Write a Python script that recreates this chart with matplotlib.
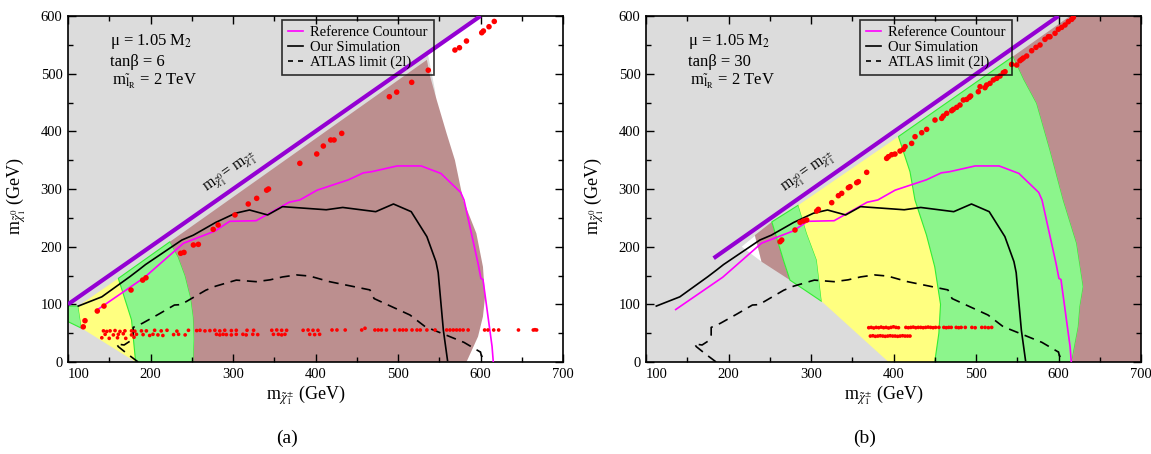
import matplotlib
matplotlib.use('Agg')
import matplotlib.pyplot as plt
from matplotlib.lines import Line2D
from matplotlib.ticker import MultipleLocator

plt.rcParams['font.family'] = ['Liberation Serif', 'DejaVu Serif']
plt.rcParams['mathtext.fontset'] = 'stix'

# ---------------- data (GeV) ----------------
# Reference contour (same in both panels)
ref_x = [136, 193, 240, 278, 296, 328, 368, 381, 402, 440, 458, 468, 499, 528, 552, 576, 580, 597, 600.5, 603, 614, 615.5]
ref_y = [91, 147, 206, 227, 244, 245, 277, 281, 298, 316, 328, 330, 340, 340, 327, 294, 281, 171, 145, 143, 27, 0]

# Our simulation
sim_x = [112.5, 141, 175, 186, 194, 238, 252, 279, 303, 320, 342, 360, 413, 433, 473, 494.5, 516, 535, 546, 548.7, 555, 560]
sim_y = [97, 113, 148, 160, 169, 211.5, 220, 242, 258, 263.6, 255, 269.4, 264, 268, 260.7, 274, 260.7, 217.4, 174, 155, 55, 3]

# ATLAS limit (2l)
atlas_x = [185, 172, 161, 158.5, 163, 168, 175, 179, 179, 190, 210, 229, 237, 267, 279, 304, 328, 345, 360, 377, 393,
           417, 442, 466, 471, 500, 514.5, 533, 556, 580, 599, 600, 601, 607.5]
atlas_y = [0, 14, 26.6, 32, 30.5, 29.5, 36, 47, 60, 67, 83, 98.8, 99.5, 124.5, 131.5, 142, 139.3, 142.5, 147.5, 151, 149,
           139.3, 132, 125, 110, 91, 81.5, 61.2, 48, 34, 18, 17.5, 11, 1]

# Degenerate line m_chi0 = m_chi+-
diagL_x = [100, 600]
diagL_y = [100, 600]
diagR_x = [182, 600]
diagR_y = [180, 600]

# Left-panel regions
L_greenA_x = [100, 112.5, 116.6, 100]
L_greenA_y = [97, 97, 58.4, 70]
L_yellow_x = [112.5, 161, 177, 182, 116.6]
L_yellow_y = [97, 145, 73, 0, 58.4]
L_greenB_x = [161, 223.6, 233.7, 242, 249, 252, 253, 252, 182, 177]
L_greenB_y = [145, 208.6, 182, 150, 110, 78, 40, 0, 0, 73]
L_brown_x = [223.6, 233.7, 242, 249, 252, 253, 252, 583, 597, 603, 605.5, 603, 595, 579, 569, 559, 547, 539, 535]
L_brown_y = [208.6, 182, 150, 110, 78, 40, 0, 0, 44, 79, 113, 165, 223, 281, 350, 396, 454, 495, 524]
L_white_x = [536, 600, 700, 700, 570, 545]
L_white_y = [536, 600, 600, 0, 0, 470]

# Right-panel regions
R_white_x = [216, 232, 240]
R_white_y = [200, 218.5, 174]
R_brownA_x = [232, 252.5, 266.5, 274.5, 240]
R_brownA_y = [220, 243, 177, 142, 174]
R_greenA_x = [252.5, 284.7, 295, 307, 313, 274.5, 266.5]
R_greenA_y = [243, 272, 223, 177, 105, 142, 177]
R_yellow_x = [284.7, 406, 420, 426, 440, 450, 457, 455, 450, 394, 313, 307, 295]
R_yellow_y = [272, 391, 330, 281, 220, 165, 100, 50, 0, 0, 105, 177, 223]
R_greenB_x = [406, 545, 558, 573.6, 589.7, 605.8, 622, 630, 626, 624, 616, 450, 455, 457, 450, 440, 426, 420]
R_greenB_y = [391, 530, 490, 448.6, 367.6, 281, 206, 130.6, 96, 61, 0, 0, 50, 100, 165, 220, 281, 330]
R_brownB_x = [545, 614, 700, 700, 616, 624, 626, 630, 622, 605.8, 589.7, 573.6, 558]
R_brownB_y = [530, 600, 600, 0, 0, 61, 96, 130.6, 206, 281, 367.6, 448.6, 490]

# Scan points (left, tan beta = 6)
dotsL_x = [118.5, 120.6, 135.5, 143.6, 176.4, 190.5, 194.5, 236.6, 240.6, 252, 258, 276, 282, 302.4, 318.5, 328.7,
           340.8, 343, 381, 401.5, 409.5, 418.4, 422.5, 431.8, 489.5, 498.4, 516.6, 536.7, 569, 574.5, 583, 601.5,
           603.5, 610.3, 616.7]
dotsL_y = [61, 71.6, 88.4, 97, 124.8, 142, 146, 188.5, 190, 202.9, 204, 230, 237.6, 255, 274, 283.8,
           298, 300, 344.5, 360.7, 374.5, 385, 385, 396.5, 460, 468, 485, 506, 541, 545, 556.6, 571,
           574, 581.4, 590.6]
bandL_x = [143, 147, 151, 157, 163, 169, 177, 181, 189, 195, 205, 213, 220, 232, 246, 256, 260, 266, 272, 278, 284,
           290, 298, 304, 317, 325, 347, 353, 359, 365, 385, 391, 397, 403,
           145, 155, 161, 167, 177, 183, 191, 199, 203, 209, 215, 228, 234, 242, 280, 284, 288, 292, 298, 304, 312,
           316, 324, 330, 349, 355, 359, 363, 393, 399, 405,
           141, 150, 160, 170, 180,
           420, 426, 436, 456, 460, 472, 476, 480, 486, 496, 502, 506, 510, 517, 523, 527, 535, 545, 559, 563, 567,
           571, 575, 579, 585, 605, 609, 616, 622, 646, 664, 666, 668]
bandL_y = [54, 53, 54, 54.5, 53, 54, 54, 53.5, 54, 54, 55, 54, 55, 53.5, 55, 54.5, 55, 54, 54.5, 55, 54,
           55, 54.5, 55, 55, 55, 55, 55.5, 55, 55, 55, 55.5, 55, 55,
           48, 47, 48, 49, 47, 48, 47.5, 46, 48, 47, 46, 47.5, 48, 47, 48, 47, 48, 47.5, 47, 48, 48,
           47, 48, 47.5, 48, 48, 47, 48, 48, 47.5, 48,
           42, 41, 42, 41, 43,
           55.5, 55.5, 55.5, 55.5, 58.5, 55.5, 55.5, 55.5, 55.5, 55.5, 55.5, 55.5, 55.5, 55.5, 55.5, 55.5, 55.5, 55.5,
           55.5, 55.5, 55.5, 55.5, 55.5, 55.5, 55.5, 55.5, 55.5, 55.5, 55.5, 55.5, 55.5, 56, 55.5]

# Scan points (right, tan beta = 30)
dotsR_x = [262.5, 264.5, 280.6, 286.7, 290.7, 294.8, 306.9, 308.9, 325.1, 333.2, 337.2, 345.3, 347.3, 355.4, 357.4,
           367.5, 391.7, 393.8, 397.8, 401.8, 407.9, 411.9, 414, 422, 426.1, 434.2, 440.2, 450.3, 458.4, 460.4,
           464.5, 470.5, 472.5, 476.6, 480.6, 484.7, 488.7, 491.9, 493.5, 502.8, 504.9, 510.9, 512.9, 517, 521,
           525.1, 529.1, 533.1, 535.2, 543.2, 549.3, 553.3, 555.4, 557.4, 561.4, 567.5, 572.7, 577.6, 583.6, 587.7,
           589.7, 595.8, 599.8, 603.8, 607.9, 611.9, 616, 618]
dotsR_y = [208.6, 211.5, 228.9, 242.2, 244.5, 246.2, 261.8, 264.7, 276.3, 288.4, 292.4, 302.3, 304, 311, 312.7,
           328.9, 353.1, 356, 359.5, 360.6, 365.8, 368.7, 373.4, 379.1, 390.7, 397.6, 403.4, 419.6, 422.5, 426.5,
           431.2, 435.8, 438.1, 441.6, 445.6, 454.3, 455.4, 458.9, 461.2, 468.7, 477.4, 475.7, 480.3, 483.2, 489,
           491.9, 495.9, 501.7, 503.4, 516.1, 515, 522.5, 524.8, 527.1, 530.6, 539.8, 545.6, 549.7, 559.5, 564.1,
           564, 570, 577, 580.3, 584.4, 590.1, 594.2, 597.6]
bandR_x = [370, 373, 376, 379, 382, 385, 388, 391, 394, 397, 400, 403, 406, 415, 418, 421, 424, 427, 430, 433, 436,
           439, 442, 445, 448, 451, 455, 461, 464, 467, 470, 476, 479, 482, 487, 495, 499, 507, 511, 515, 519,
           372, 375, 378, 381, 384, 387, 390, 393, 396, 399, 402, 405, 408, 411, 414, 417, 420]
bandR_y = [59.5, 60, 59, 60, 59.5, 60.5, 59.5, 60, 59, 60, 61, 60, 59.5, 60, 59.5, 60, 60.5, 59.5, 60, 60, 59.5,
           60, 60.5, 60, 59.5, 60, 60, 60, 59.5, 60, 60, 60, 59.5, 60, 60, 60, 59.5, 60, 60, 59.5, 60,
           45, 45.5, 44.5, 45, 45.5, 45, 44.5, 45, 45.5, 45, 45, 44.5, 45, 45.5, 45, 45, 45]

tanb_labels = ['6', '30']

# ---------------- styles ----------------
GRAY = '#dcdcdc'
BROWN = '#bc8f8f'
GREEN = '#8cf58c'
GREEN_EDGE = '#33ee33'
YELLOW = '#ffff80'
PURPLE = '#9400d3'
MAGENTA = '#ff00ff'

fig = plt.figure(figsize=(11.51, 4.54), dpi=100)
axL = fig.add_axes([68 / 1151, 92 / 454, 495 / 1151, 346 / 454])
axR = fig.add_axes([646 / 1151, 92 / 454, 495 / 1151, 346 / 454])


def fill(ax, xs, ys, color, edge=None):
    ax.fill(xs, ys, facecolor=color, edgecolor=edge if edge else 'none',
            linewidth=0.8 if edge else 0, zorder=1)


# left panel regions
fill(axL, L_white_x, L_white_y, 'white')
fill(axL, L_greenA_x, L_greenA_y, GREEN, GREEN_EDGE)
fill(axL, L_yellow_x, L_yellow_y, YELLOW)
fill(axL, L_greenB_x, L_greenB_y, GREEN, GREEN_EDGE)
fill(axL, L_brown_x, L_brown_y, BROWN)

# right panel regions
fill(axR, R_white_x, R_white_y, 'white')
fill(axR, R_brownA_x, R_brownA_y, BROWN)
fill(axR, R_greenA_x, R_greenA_y, GREEN, GREEN_EDGE)
fill(axR, R_yellow_x, R_yellow_y, YELLOW)
fill(axR, R_greenB_x, R_greenB_y, GREEN, GREEN_EDGE)
fill(axR, R_brownB_x, R_brownB_y, BROWN)

panels = [(axL, diagL_x, diagL_y, dotsL_x, dotsL_y, bandL_x, bandL_y, tanb_labels[0]),
          (axR, diagR_x, diagR_y, dotsR_x, dotsR_y, bandR_x, bandR_y, tanb_labels[1])]

for ax, dx, dy, px, py, bx, by, tb in panels:
    ax.set_facecolor(GRAY)
    ax.plot(dx, dy, color=PURPLE, lw=3.0, solid_capstyle='butt', zorder=3)
    ax.plot(ref_x, ref_y, color=MAGENTA, lw=1.2, zorder=4)
    ax.plot(sim_x, sim_y, color='black', lw=1.2, zorder=4)
    ax.plot(atlas_x, atlas_y, color='black', lw=1.2, dashes=(6, 4), zorder=4)
    ax.scatter(px, py, s=16, color='#ff0000', edgecolors='none', zorder=5)
    ax.scatter(bx, by, s=7, color='#ff0000', edgecolors='none', zorder=5)

    ax.set_xlim(100, 700)
    ax.set_ylim(0, 600)
    ax.xaxis.set_major_locator(MultipleLocator(100))
    ax.xaxis.set_minor_locator(MultipleLocator(50))
    ax.yaxis.set_major_locator(MultipleLocator(100))
    ax.yaxis.set_minor_locator(MultipleLocator(50))
    ax.tick_params(which='both', direction='in', top=True, right=True, labelsize=10.5, width=1.0, pad=4)
    ax.tick_params(which='major', length=6)
    ax.tick_params(which='minor', length=3.5)
    for s in ax.spines.values():
        s.set_linewidth(1.2)

    ax.set_xlabel(r'm$_{\tilde{\chi}_1^{\pm}}$ (GeV)', fontsize=13)
    ax.xaxis.set_label_coords(0.48, -0.062)
    ax.set_ylabel(r'm$_{\tilde{\chi}_1^{0}}$ (GeV)', fontsize=13)
    ax.yaxis.set_label_coords(-0.081, 0.48)

    ax.text(0.085, 0.925, 'μ = 1.05 M$_2$', transform=ax.transAxes, fontsize=12, va='center')
    ax.text(0.085, 0.868, 'tanβ = ' + tb, transform=ax.transAxes, fontsize=12, va='center')
    ax.text(0.088, 0.812, r'm$_{\tilde{\mathrm{l}}_{\mathrm{R}}}$ = 2 TeV', transform=ax.transAxes,
            fontsize=12, va='center')

    ax.text(298, 326, r'm$_{\tilde{\chi}_1^{0}}$= m$_{\tilde{\chi}_1^{\pm}}$', rotation=35,
            rotation_mode='anchor', ha='center', va='center', fontsize=11.5, zorder=6)

    handles = [Line2D([], [], color=MAGENTA, lw=1.2),
               Line2D([], [], color='black', lw=1.2),
               Line2D([], [], color='black', lw=1.2, dashes=(3, 3))]
    leg = ax.legend(handles, ['Reference Countour', 'Our Simulation', 'ATLAS limit (2l)'],
                    loc='upper left', bbox_to_anchor=(0.433, 0.988), borderaxespad=0,
                    fontsize=10.5, frameon=True, fancybox=False, handlelength=1.0,
                    handletextpad=0.5, labelspacing=0.1, borderpad=0.42)
    leg.get_frame().set_edgecolor('black')
    leg.get_frame().set_facecolor('none')
    leg.get_frame().set_linewidth(1.2)
    leg.set_zorder(7)

fig.canvas.draw()
for ax in (axL, axR):
    for t in ax.xaxis.get_major_ticks():
        if abs(t.get_loc() - 100) < 1:
            t.label1.set_horizontalalignment('left')
            t.label1.set_x(t.get_loc())

fig.text(287 / 1151, 1 - 438 / 454, '(a)', fontsize=14, ha='center', va='center')
fig.text(865 / 1151, 1 - 438 / 454, '(b)', fontsize=14, ha='center', va='center')

fig.savefig('out.png', dpi=100)
